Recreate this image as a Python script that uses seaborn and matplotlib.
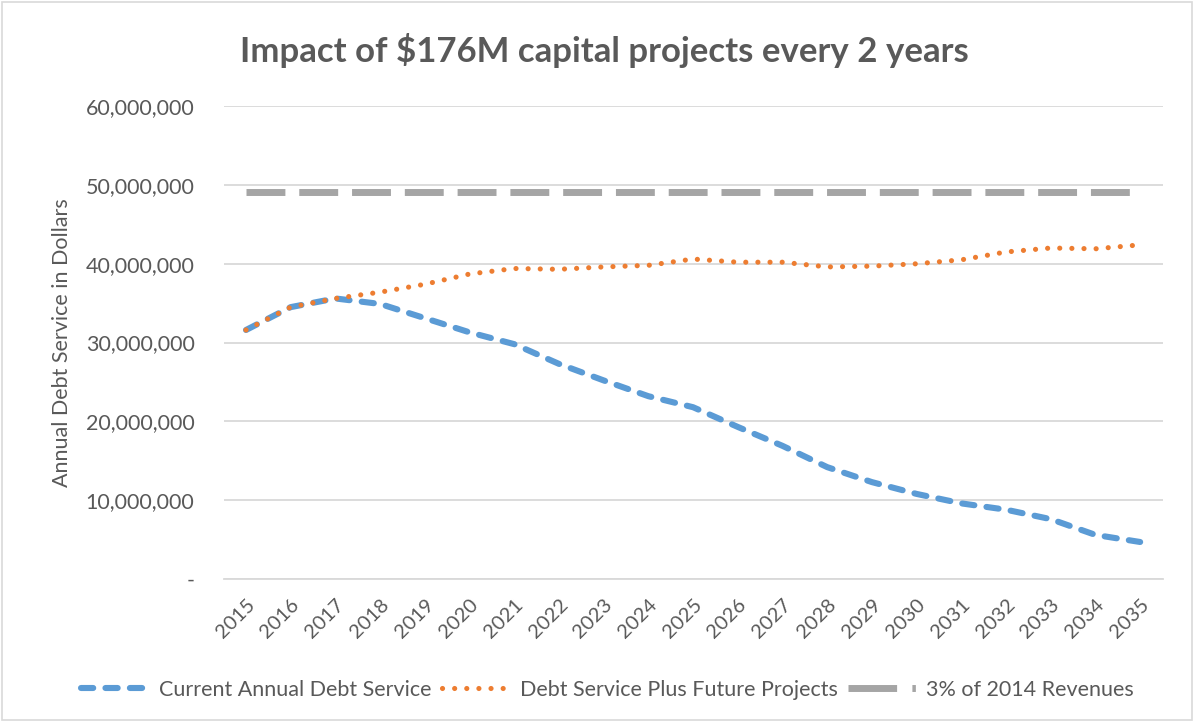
import matplotlib.pyplot as plt
import matplotlib.ticker as mticker
from matplotlib.patches import Rectangle
import numpy as np
import seaborn as sns
import pandas as pd

years = list(range(2015, 2036))
current_service = [31.6, 34.5, 35.6, 34.9, 33.1, 31.3, 29.8, 27.3, 25.2, 23.2, 21.8,
                   19.3, 16.9, 14.2, 12.3, 10.8, 9.6, 8.8, 7.6, 5.6, 4.7]
plus_future = [31.6, 34.5, 35.6, 36.4, 37.4, 38.7, 39.4, 39.3, 39.6, 39.8, 40.6,
               40.2, 40.2, 39.6, 39.7, 40.0, 40.5, 41.5, 42.0, 41.9, 42.4]
revenue_cap = [49.1] * len(years)

df = pd.DataFrame({
    "year": years,
    "current": np.array(current_service) * 1e6,
    "future": np.array(plus_future) * 1e6,
    "cap": np.array(revenue_cap) * 1e6,
})

sns.set_theme(style="white")
plt.rcParams["font.family"] = ["Lato", "DejaVu Sans"]
text_col = "#595959"

fig = plt.figure(figsize=(11.96, 7.22), dpi=100)
ax = fig.add_axes([0.187, 0.198, 0.785, 0.655])

sns.lineplot(data=df, x="year", y="current", ax=ax, color="#5B9BD5", linewidth=4.4,
             label="Current Annual Debt Service")
sns.lineplot(data=df, x="year", y="future", ax=ax, color="#ED7D31", linewidth=3.7,
             label="Debt Service Plus Future Projects")
sns.lineplot(data=df, x="year", y="cap", ax=ax, color="#A5A5A5", linewidth=5,
             label="3% of 2014 Revenues")

lines = ax.get_lines()
lines[0].set_dashes((2.0, 2.0))
lines[0].set_dash_capstyle("round")
lines[1].set_dashes((0.01, 2.35))
lines[1].set_dash_capstyle("round")
lines[2].set_dashes((5.6, 2.0))
lines[2].set_dash_capstyle("butt")

ax.set_xlim(2014.5, 2035.5)
ax.set_ylim(0, 60e6)
ax.set_xticks(years)
ax.set_xticklabels([str(y) for y in years], rotation=45, ha="right",
                   rotation_mode="anchor", fontsize=14.5, color=text_col)
ax.set_yticks(np.arange(0, 60e6 + 1, 10e6))
ax.yaxis.set_major_formatter(mticker.FuncFormatter(
    lambda v, p: "-" if v == 0 else f"{int(v):,}"))
ax.tick_params(axis="y", labelsize=15.5, colors=text_col, length=0, pad=21)
ax.tick_params(axis="x", length=0, pad=12)
ax.grid(axis="y", color="#D9D9D9", linewidth=1.3)
ax.set_axisbelow(True)
for s in ["top", "right", "left"]:
    ax.spines[s].set_visible(False)
ax.spines["bottom"].set_color("#D9D9D9")
ax.spines["bottom"].set_linewidth(1.3)

ax.set_xlabel("")
ax.set_ylabel("Annual Debt Service in Dollars", fontsize=15.5, color=text_col, labelpad=10)
fig.text(0.505, 0.93, "Impact of $176M capital projects every 2 years", ha="center",
         va="center", fontsize=25, fontweight="bold", color=text_col)

leg = ax.legend(loc="center", bbox_to_anchor=(0.508, 0.045),
                bbox_transform=fig.transFigure, ncol=3, frameon=False,
                fontsize=15.5, handlelength=3.2, columnspacing=0.5, handletextpad=0.4)
for t in leg.get_texts():
    t.set_color(text_col)
# gray legend key: long bar followed by a small dot
leg.get_lines()[2].set_dashes((7.0, 2.2, 0.5, 5))

fig.patches.append(Rectangle((0.002, 0.003), 0.995, 0.994, transform=fig.transFigure,
                             fill=False, edgecolor="#D9D9D9", linewidth=1.2))

fig.savefig("out.png", dpi=100)
